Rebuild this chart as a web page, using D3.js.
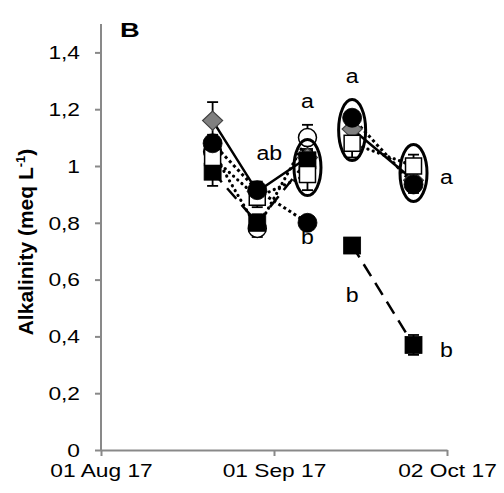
<!DOCTYPE html>
<html>
<head>
<meta charset="utf-8">
<script src="https://cdn.jsdelivr.net/npm/d3@7"></script>
<style>
  html, body { margin: 0; padding: 0; background: #fff; }
  svg { display: block; }
  text { font-family: "Liberation Sans", Arial, sans-serif; }
</style>
</head>
<body>
<svg id="chart" width="504" height="493"></svg>
<script>
// ---- data ----
const parse = d3.timeParse("%Y-%m-%d");

// first sampling period and second sampling period
const datesPeriod1 = ["2017-08-21", "2017-08-29", "2017-09-07"];
const datesPeriod2 = ["2017-09-15", "2017-09-26"];

// alkalinity means (meq L-1) and error bars for each treatment
const diamondP1      = [1.16, 0.91, 1.03];
const diamondP1Err   = [0.065, 0.03, 0.03];
const circleP1       = [1.08, 0.915, 0.80];
const circleP1Err    = [0.03, 0.03, 0.02];
const openCircleP1   = [1.05, 0.78, 1.10];
const openCircleP1Err= [0.03, 0.03, 0.045];
const squareP1       = [0.98, 0.80, 1.02];
const squareP1Err    = [0.05, 0.03, 0.03];
const openSquareP1   = [1.03, 0.89, 0.97];
const openSquareP1Err= [0.04, 0.035, 0.055];

const diamondP2      = [1.13, 0.95];
const diamondP2Err   = [0.03, 0.03];
const circleP2       = [1.17, 0.935];
const circleP2Err    = [0.02, 0.03];
const squareP2       = [0.72, 0.37];
const squareP2Err    = [0.025, 0.035];
const openSquareP2   = [1.08, 1.00];
const openSquareP2Err= [0.05, 0.04];

// axis ticks
const yTicks = [0, 0.2, 0.4, 0.6, 0.8, 1.0, 1.2, 1.4];
const xTickDates = ["2017-08-01", "2017-09-01", "2017-10-02"];
const xTickLabels = ["01 Aug 17", "01 Sep 17", "02 Oct 17"];

// significance letters: date, value at baseline, letter, placement
const letterDates  = ["2017-08-29", "2017-09-07", "2017-09-07", "2017-09-15", "2017-09-15", "2017-09-26", "2017-09-26"];
const letterValues = [1.02, 1.204, 0.725, 1.292, 0.521, 0.937, 0.327];
const letterTexts  = ["ab", "a", "b", "a", "b", "a", "b"];
const letterSide   = ["near", "center", "center", "center", "center", "right", "right"];

// grouping ellipses: date, upper value, lower value
const groupDates = ["2017-09-07", "2017-09-15", "2017-09-26"];
const groupHigh  = [1.093, 1.234, 1.076];
const groupLow   = [0.896, 1.019, 0.875];

// ---- series table (drawn bottom to top) ----
function makeSeries(dates, vals, errs, marker, dash) {
  return { marker, dash, points: dates.map((d, i) => ({ date: parse(d), v: vals[i], e: errs[i] })) };
}
const series = [
  makeSeries(datesPeriod1, diamondP1, diamondP1Err, "diamond", "solid"),
  makeSeries(datesPeriod2, diamondP2, diamondP2Err, "diamond", "solid"),
  makeSeries(datesPeriod1, openCircleP1, openCircleP1Err, "openCircle", "round"),
  makeSeries(datesPeriod1, squareP1, squareP1Err, "square", "long"),
  makeSeries(datesPeriod2, squareP2, squareP2Err, "square", "long"),
  makeSeries(datesPeriod1, openSquareP1, openSquareP1Err, "openSquare", "round"),
  makeSeries(datesPeriod2, openSquareP2, openSquareP2Err, "openSquare", "round"),
  makeSeries(datesPeriod1, circleP1, circleP1Err, "circle", "square"),
  makeSeries(datesPeriod2, circleP2, circleP2Err, "circle", "square")
];

// ---- scales ----
const svg = d3.select("#chart");
const x = d3.scaleTime().domain([parse("2017-08-01"), parse("2017-10-02")]).range([101, 447]);
const y = d3.scaleLinear().domain([0, 1.5]).range([450, 24]);

const SX = 1.3; // horizontal glyph stretch of labels
const axisColor = "#898989";
const fmt = v => d3.format(".1~f")(v).replace(".", ",");

// ---- axes ----
const yAxis = svg.append("g").attr("transform", "translate(101,0)")
  .call(d3.axisLeft(y).tickValues(yTicks).tickSize(6).tickPadding(0).tickFormat(fmt));
const xAxis = svg.append("g").attr("transform", "translate(0,450)")
  .call(d3.axisBottom(x).tickValues(xTickDates.map(parse)).tickSize(6).tickSizeOuter(0)
    .tickFormat((d, i) => xTickLabels[i]));

[yAxis, xAxis].forEach(g => {
  g.select(".domain").attr("stroke", axisColor).attr("stroke-width", 2);
  g.selectAll(".tick line").attr("stroke", axisColor).attr("stroke-width", 2);
});
yAxis.select(".domain").attr("d", `M0,${y(1.5)}V${y(0)}`);

yAxis.selectAll(".tick text").each(function () {
  const t = d3.select(this);
  t.attr("x", null).attr("dy", null).attr("text-anchor", "end")
   .attr("font-size", 17.5).attr("fill", "#000")
   .attr("transform", `translate(-21,6.3) scale(${SX},1)`);
});
xAxis.selectAll(".tick text").each(function () {
  const t = d3.select(this);
  t.attr("y", null).attr("dy", null).attr("text-anchor", "middle")
   .attr("font-size", 17.5).attr("fill", "#000")
   .attr("transform", `translate(0,27) scale(${SX},1)`);
});

// ---- axis title ----
const title = svg.append("text")
  .attr("transform", "translate(33,242) rotate(-90)")
  .attr("text-anchor", "middle")
  .attr("font-size", 21).attr("font-weight", "bold").attr("fill", "#000");
title.append("tspan").text("Alkalinity (meq L");
title.append("tspan").text("-1").attr("font-size", 13).attr("dy", -8);
title.append("tspan").text(")").attr("dy", 8);

// panel letter
svg.append("text").attr("transform", `translate(120,37) scale(${SX},1)`)
  .attr("font-size", 21).attr("font-weight", "bold").text("B");

// ---- series ----
const dashes = { solid: null, round: "0.1 5.5", square: "3 3", long: "14 8" };
const widths = { solid: 2.5, round: 3.2, square: 3, long: 2.5 };
const line = d3.line().x(d => x(d.date)).y(d => y(d.v));

const gLines = svg.append("g");
const gErr = svg.append("g");
const gMarks = svg.append("g");

series.forEach(s => {
  gLines.append("path").datum(s.points)
    .attr("d", line).attr("fill", "none").attr("stroke", "#000")
    .attr("stroke-width", widths[s.dash])
    .attr("stroke-dasharray", dashes[s.dash])
    .attr("stroke-linecap", s.dash === "round" ? "round" : "butt");
});

series.forEach(s => {
  const g = gErr.append("g").attr("stroke", "#000").attr("stroke-width", 1.8);
  s.points.forEach(p => {
    const cx = x(p.date);
    g.append("line").attr("x1", cx).attr("x2", cx).attr("y1", y(p.v - p.e)).attr("y2", y(p.v + p.e));
    [p.v - p.e, p.v + p.e].forEach(b => {
      g.append("line").attr("x1", cx - 5.5).attr("x2", cx + 5.5).attr("y1", y(b)).attr("y2", y(b));
    });
  });
});

series.forEach(s => {
  const g = gMarks.append("g");
  s.points.forEach(p => {
    const cx = x(p.date), cy = y(p.v);
    if (s.marker === "circle" || s.marker === "openCircle") {
      g.append("circle").attr("cx", cx).attr("cy", cy).attr("r", s.marker === "circle" ? 9.5 : 9)
        .attr("fill", s.marker === "circle" ? "#000" : "#fff")
        .attr("stroke", "#000").attr("stroke-width", s.marker === "circle" ? 0.8 : 1.5);
    } else if (s.marker === "square" || s.marker === "openSquare") {
      const h = s.marker === "square" ? 8.5 : 8;
      g.append("rect").attr("x", cx - h).attr("y", cy - h).attr("width", 2 * h).attr("height", 2 * h)
        .attr("fill", s.marker === "square" ? "#000" : "#fff")
        .attr("stroke", "#000").attr("stroke-width", s.marker === "square" ? 0.8 : 1.5);
    } else {
      g.append("path").attr("d", `M${cx},${cy - 9.5}L${cx + 10},${cy}L${cx},${cy + 9.5}L${cx - 10},${cy}Z`)
        .attr("fill", "#808080").attr("stroke", "#404040").attr("stroke-width", 1.2);
    }
  });
});

// ---- grouping ellipses ----
groupDates.forEach((d, i) => {
  const top = y(groupHigh[i]), bot = y(groupLow[i]);
  svg.append("ellipse")
    .attr("cx", x(parse(d))).attr("cy", (top + bot) / 2)
    .attr("rx", 13.5).attr("ry", (bot - top) / 2)
    .attr("fill", "none").attr("stroke", "#000").attr("stroke-width", 3);
});

// ---- significance letters ----
const letterShift = { center: 0, near: 12, right: 33 };
letterTexts.forEach((t, i) => {
  const lx = x(parse(letterDates[i])) + letterShift[letterSide[i]];
  svg.append("text")
    .attr("transform", `translate(${lx},${y(letterValues[i])}) scale(1.1,1)`)
    .attr("text-anchor", "middle").attr("font-size", 21).attr("fill", "#000")
    .text(t);
});
</script>
</body>
</html>
